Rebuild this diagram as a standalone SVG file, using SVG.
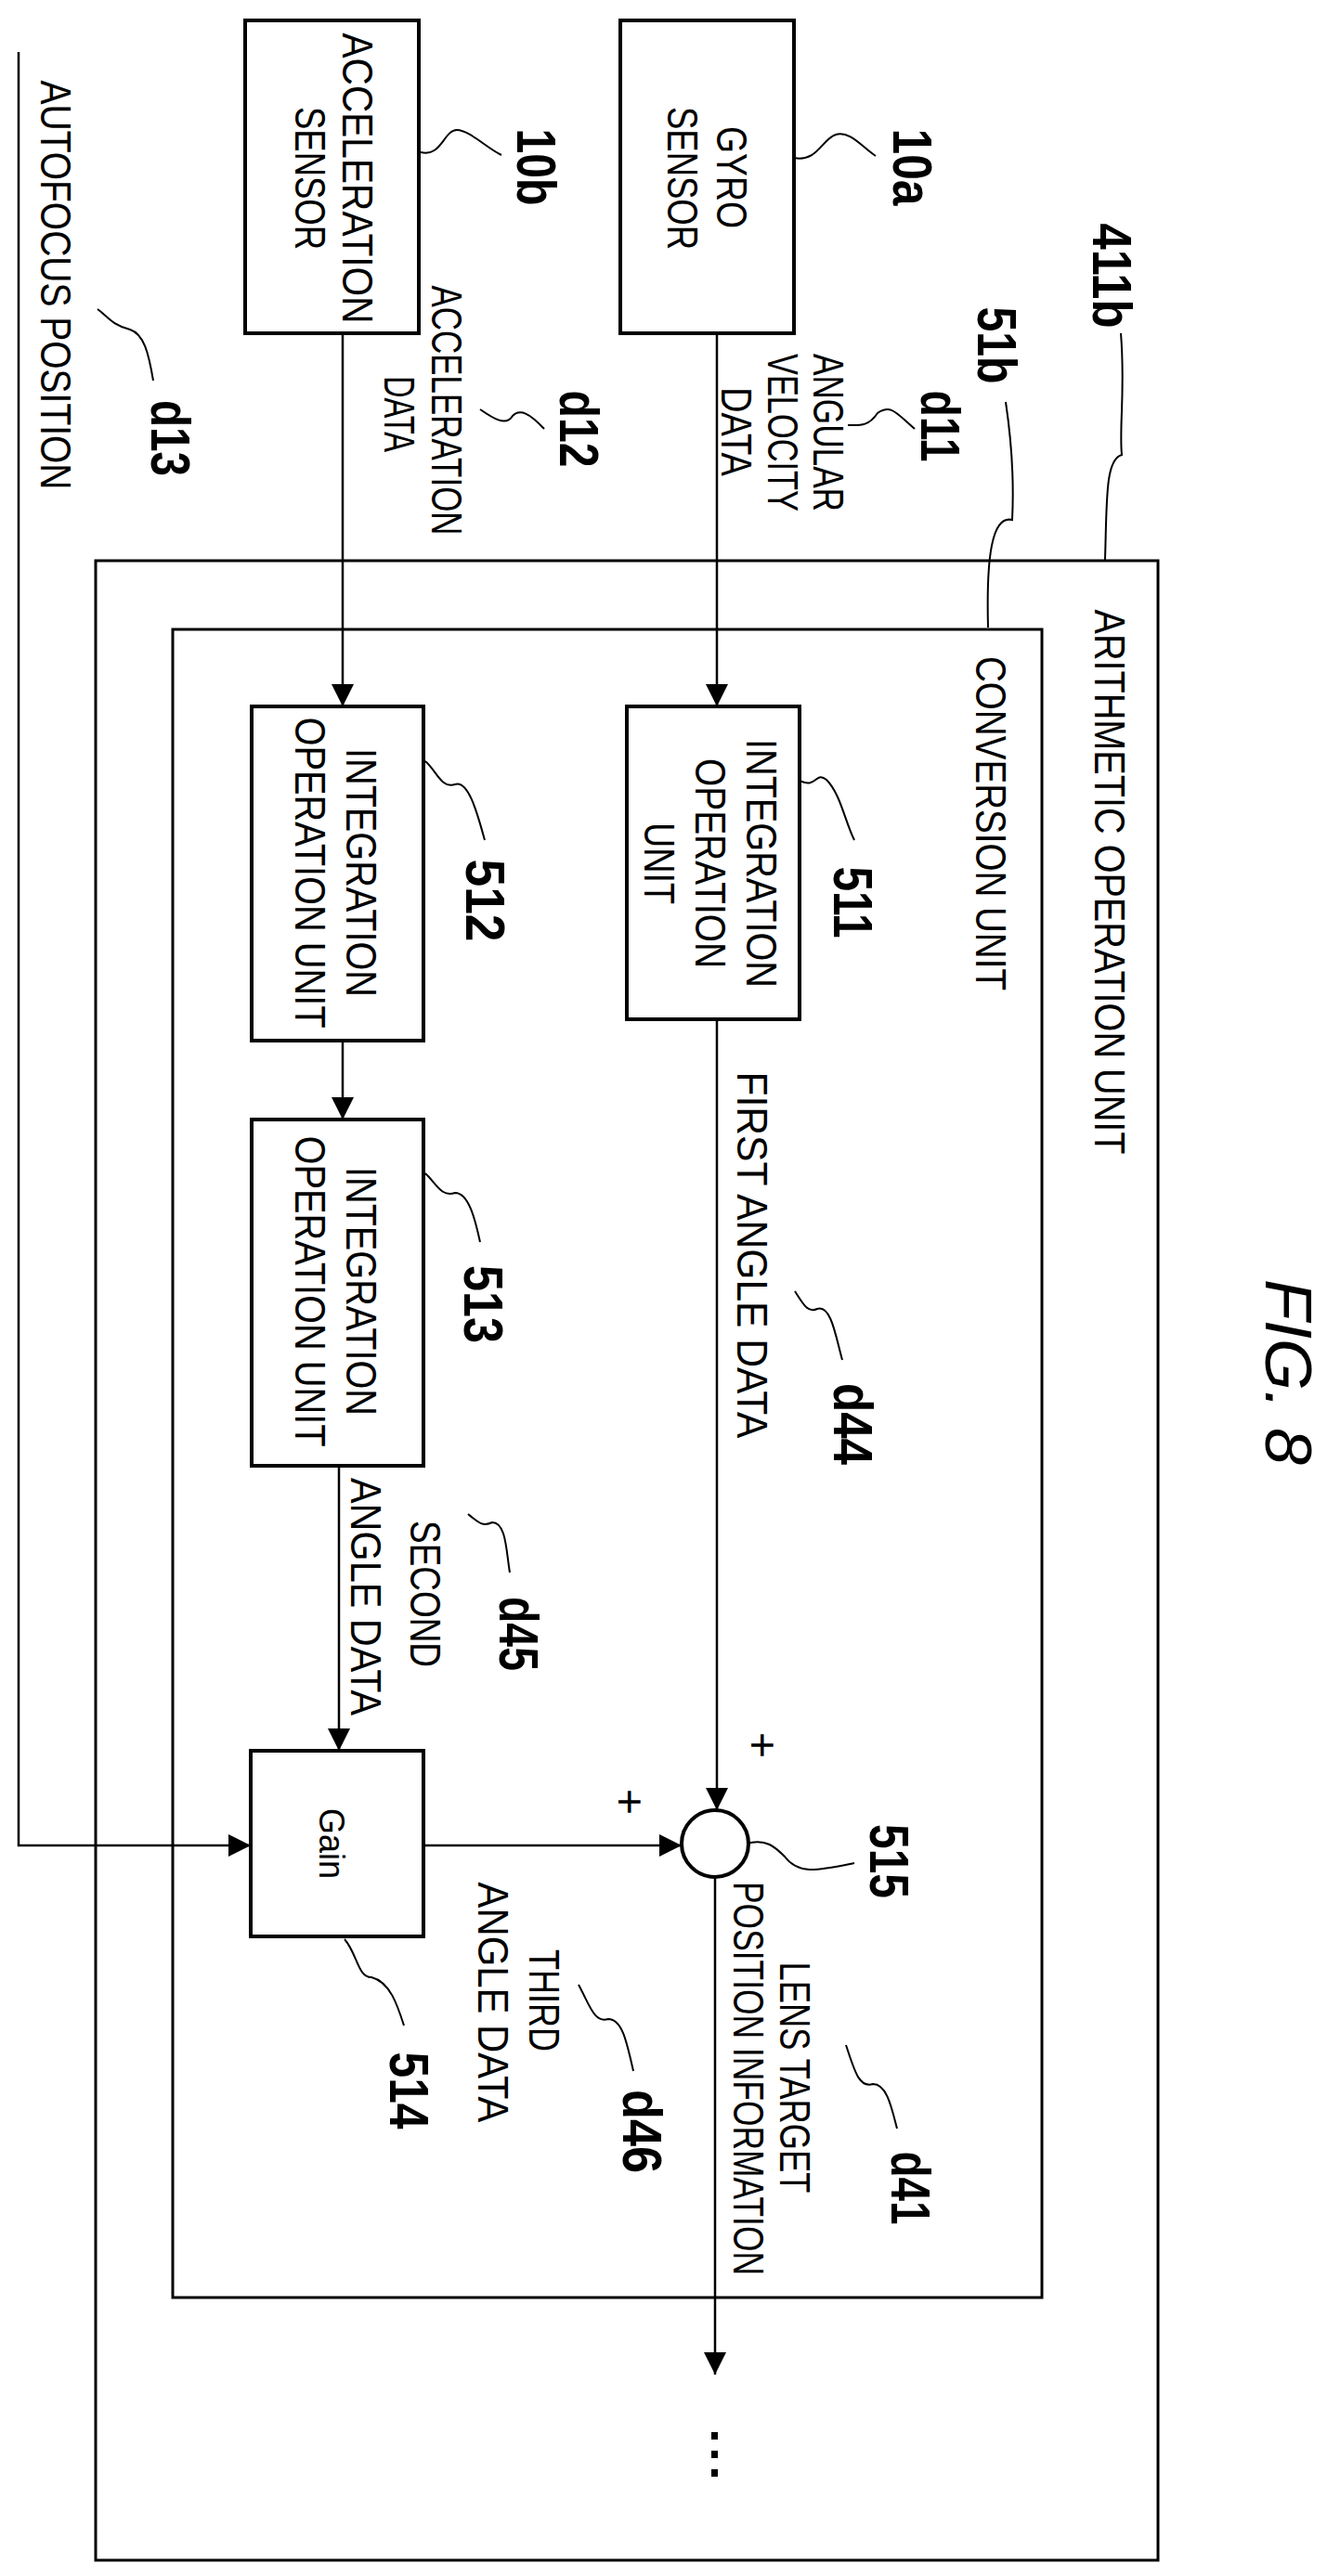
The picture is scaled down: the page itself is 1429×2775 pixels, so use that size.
<svg xmlns="http://www.w3.org/2000/svg" width="1429" height="2775" viewBox="0 0 1429 2775">
<style>
.b{fill:#fff;stroke:#000;stroke-width:4}
.f{fill:none;stroke:#000;stroke-width:3}
.c{fill:none;stroke:#000;stroke-width:2.5}
.l{fill:none;stroke:#000;stroke-width:2}
text{font-family:"Liberation Sans",Arial,sans-serif;fill:#000}
.t{font-size:46px}
.n{font-size:60px;font-weight:bold}
</style>
<defs>
<marker id="a" markerUnits="userSpaceOnUse" markerWidth="24" markerHeight="32" viewBox="0 0 24 32" refX="24" refY="12" orient="auto">
<path d="M0,0 L24,12 L0,24 Z" fill="#000"/>
</marker>
</defs>
<rect width="1429" height="2775" fill="#fff"/>
<g id="outer411b"><rect class="f" x="103" y="604" width="1144" height="2154"/>
<text class="t" text-anchor="middle" dominant-baseline="central" textLength="587" lengthAdjust="spacingAndGlyphs" transform="translate(1195,950) rotate(90)">ARITHMETIC OPERATION UNIT</text></g>
<g id="conv51b"><rect class="f" x="186" y="678" width="936" height="1797"/>
<text class="t" text-anchor="middle" dominant-baseline="central" textLength="360" lengthAdjust="spacingAndGlyphs" transform="translate(1067,887) rotate(90)">CONVERSION UNIT</text></g>
<g id="gyro"><rect class="b" x="668" y="22" width="187" height="337"/>
<text class="t" text-anchor="middle" dominant-baseline="central" textLength="110" lengthAdjust="spacingAndGlyphs" transform="translate(788,191) rotate(90)">GYRO</text>
<text class="t" text-anchor="middle" dominant-baseline="central" textLength="154" lengthAdjust="spacingAndGlyphs" transform="translate(735,192) rotate(90)">SENSOR</text></g>
<g id="accel"><rect class="b" x="264" y="22" width="187" height="337"/>
<text class="t" text-anchor="middle" dominant-baseline="central" textLength="313" lengthAdjust="spacingAndGlyphs" transform="translate(385,192) rotate(90)">ACCELERATION</text>
<text class="t" text-anchor="middle" dominant-baseline="central" textLength="154" lengthAdjust="spacingAndGlyphs" transform="translate(334,192) rotate(90)">SENSOR</text></g>
<g id="u511"><rect class="b" x="675" y="761" width="186" height="337"/>
<text class="t" text-anchor="middle" dominant-baseline="central" textLength="268" lengthAdjust="spacingAndGlyphs" transform="translate(820,930) rotate(90)">INTEGRATION</text>
<text class="t" text-anchor="middle" dominant-baseline="central" textLength="226" lengthAdjust="spacingAndGlyphs" transform="translate(765,930) rotate(90)">OPERATION</text>
<text class="t" text-anchor="middle" dominant-baseline="central" textLength="88" lengthAdjust="spacingAndGlyphs" transform="translate(710,930) rotate(90)">UNIT</text></g>
<g id="u512"><rect class="b" x="271" y="761" width="185" height="360"/>
<text class="t" text-anchor="middle" dominant-baseline="central" textLength="268" lengthAdjust="spacingAndGlyphs" transform="translate(389,940) rotate(90)">INTEGRATION</text>
<text class="t" text-anchor="middle" dominant-baseline="central" textLength="335" lengthAdjust="spacingAndGlyphs" transform="translate(334,940) rotate(90)">OPERATION UNIT</text></g>
<g id="u513"><rect class="b" x="271" y="1206" width="185" height="373"/>
<text class="t" text-anchor="middle" dominant-baseline="central" textLength="268" lengthAdjust="spacingAndGlyphs" transform="translate(389,1391) rotate(90)">INTEGRATION</text>
<text class="t" text-anchor="middle" dominant-baseline="central" textLength="335" lengthAdjust="spacingAndGlyphs" transform="translate(334,1391) rotate(90)">OPERATION UNIT</text></g>
<g id="u514"><rect class="b" x="270" y="1886" width="186" height="200"/>
<text style="font-size:38px" text-anchor="middle" dominant-baseline="central" textLength="76" lengthAdjust="spacingAndGlyphs" transform="translate(357,1986) rotate(90)">Gain</text></g>
<g id="u515"><circle class="b" cx="770" cy="1986" r="36"/></g>
<g id="connectors">
<path class="c" d="M772,359 V761" marker-end="url(#a)"/>
<path class="c" d="M369,359 V761" marker-end="url(#a)"/>
<path class="c" d="M369,1121 V1206" marker-end="url(#a)"/>
<path class="c" d="M772,1098 V1950" marker-end="url(#a)"/>
<path class="c" d="M365,1579 V1886" marker-end="url(#a)"/>
<path class="c" d="M456,1988 H734" marker-end="url(#a)"/>
<path class="c" d="M20,56 V1988 H270" marker-end="url(#a)"/>
<path class="c" d="M770,2022 V2558" marker-end="url(#a)"/>
<rect x="766" y="2620" width="7" height="8"/><rect x="766" y="2640" width="7" height="8"/><rect x="766" y="2660" width="7" height="8"/>
</g>
<g id="leaders">
<path class="l" d="M855,170 C880,175 885,150 900,145 C915,140 930,160 943,168"/>
<path class="l" d="M453,164 C475,170 478,140 492,140 C505,140 525,160 540,167"/>
<path class="l" d="M1207,359 C1212,420 1205,460 1208,490 C1190,495 1192,540 1190,603"/>
<path class="l" d="M1083,433 C1090,480 1092,520 1090,560 C1068,555 1062,600 1064,676"/>
<path class="l" d="M985,462 C965,445 960,435 945,445 C935,460 925,458 913,458"/>
<path class="l" d="M586,462 C570,445 560,440 552,448 C545,460 530,450 517,441"/>
<path class="l" d="M165,410 C160,380 155,360 140,355 C120,350 115,340 105,333"/>
<path class="l" d="M861,841 C880,850 878,830 890,840 C905,855 910,885 920,905"/>
<path class="l" d="M458,820 C470,830 475,850 490,845 C505,840 515,880 522,905"/>
<path class="l" d="M458,1264 C470,1275 475,1290 490,1285 C505,1285 512,1315 517,1338"/>
<path class="l" d="M856,1391 C865,1405 870,1415 880,1410 C895,1405 900,1440 907,1465"/>
<path class="l" d="M504,1631 C515,1640 520,1645 530,1640 C545,1640 545,1670 549,1694"/>
<path class="l" d="M804,1986 C825,1980 835,1990 845,2000 C860,2020 880,2015 920,2007"/>
<path class="l" d="M371,2089 C385,2105 385,2130 400,2130 C420,2135 428,2160 435,2182"/>
<path class="l" d="M623,2138 C635,2160 640,2180 655,2175 C670,2175 675,2200 682,2231"/>
<path class="l" d="M911,2203 C920,2230 925,2250 940,2245 C955,2245 960,2270 966,2293"/>
</g>
<g id="labels">
<text class="n" text-anchor="middle" dominant-baseline="central" textLength="83" lengthAdjust="spacingAndGlyphs" transform="translate(982,180) rotate(90)">10a</text>
<text class="n" text-anchor="middle" dominant-baseline="central" textLength="83" lengthAdjust="spacingAndGlyphs" transform="translate(577,180) rotate(90)">10b</text>
<text class="n" text-anchor="middle" dominant-baseline="central" textLength="113" lengthAdjust="spacingAndGlyphs" transform="translate(1197,297) rotate(90)">411b</text>
<text class="n" text-anchor="middle" dominant-baseline="central" textLength="83" lengthAdjust="spacingAndGlyphs" transform="translate(1073,372) rotate(90)">51b</text>
<text class="n" text-anchor="middle" dominant-baseline="central" textLength="77" lengthAdjust="spacingAndGlyphs" transform="translate(1012,459) rotate(90)">d11</text>
<text class="n" text-anchor="middle" dominant-baseline="central" textLength="83" lengthAdjust="spacingAndGlyphs" transform="translate(623,462) rotate(90)">d12</text>
<text class="n" text-anchor="middle" dominant-baseline="central" textLength="82" lengthAdjust="spacingAndGlyphs" transform="translate(183,472) rotate(90)">d13</text>
<text class="n" text-anchor="middle" dominant-baseline="central" textLength="77" lengthAdjust="spacingAndGlyphs" transform="translate(918,972) rotate(90)">511</text>
<text class="n" text-anchor="middle" dominant-baseline="central" textLength="89" lengthAdjust="spacingAndGlyphs" transform="translate(522,970) rotate(90)">512</text>
<text class="n" text-anchor="middle" dominant-baseline="central" textLength="84" lengthAdjust="spacingAndGlyphs" transform="translate(520,1405) rotate(90)">513</text>
<text class="n" text-anchor="middle" dominant-baseline="central" textLength="88" lengthAdjust="spacingAndGlyphs" transform="translate(918,1534) rotate(90)">d44</text>
<text class="n" text-anchor="middle" dominant-baseline="central" textLength="80" lengthAdjust="spacingAndGlyphs" transform="translate(558,1760) rotate(90)">d45</text>
<text class="n" text-anchor="middle" dominant-baseline="central" textLength="80" lengthAdjust="spacingAndGlyphs" transform="translate(957,2005) rotate(90)">515</text>
<text class="n" text-anchor="middle" dominant-baseline="central" textLength="83" lengthAdjust="spacingAndGlyphs" transform="translate(440,2252) rotate(90)">514</text>
<text class="n" text-anchor="middle" dominant-baseline="central" textLength="90" lengthAdjust="spacingAndGlyphs" transform="translate(691,2296) rotate(90)">d46</text>
<text class="n" text-anchor="middle" dominant-baseline="central" textLength="79" lengthAdjust="spacingAndGlyphs" transform="translate(980,2357) rotate(90)">d41</text>
<text class="t" text-anchor="middle" dominant-baseline="central" textLength="170" lengthAdjust="spacingAndGlyphs" transform="translate(892,466) rotate(90)">ANGULAR</text>
<text class="t" text-anchor="middle" dominant-baseline="central" textLength="170" lengthAdjust="spacingAndGlyphs" transform="translate(843,466) rotate(90)">VELOCITY</text>
<text class="t" text-anchor="middle" dominant-baseline="central" textLength="96" lengthAdjust="spacingAndGlyphs" transform="translate(793,465) rotate(90)">DATA</text>
<text class="t" text-anchor="middle" dominant-baseline="central" textLength="269" lengthAdjust="spacingAndGlyphs" transform="translate(481,442) rotate(90)">ACCELERATION</text>
<text class="t" text-anchor="middle" dominant-baseline="central" textLength="82" lengthAdjust="spacingAndGlyphs" transform="translate(430,446) rotate(90)">DATA</text>
<text class="t" text-anchor="middle" dominant-baseline="central" textLength="441" lengthAdjust="spacingAndGlyphs" transform="translate(60,307) rotate(90)">AUTOFOCUS POSITION</text>
<text class="t" text-anchor="middle" dominant-baseline="central" textLength="395" lengthAdjust="spacingAndGlyphs" transform="translate(810,1352) rotate(90)">FIRST ANGLE DATA</text>
<text class="t" text-anchor="middle" dominant-baseline="central" textLength="158" lengthAdjust="spacingAndGlyphs" transform="translate(458,1717) rotate(90)">SECOND</text>
<text class="t" text-anchor="middle" dominant-baseline="central" textLength="256" lengthAdjust="spacingAndGlyphs" transform="translate(394,1720) rotate(90)">ANGLE DATA</text>
<text class="t" text-anchor="middle" dominant-baseline="central" textLength="110" lengthAdjust="spacingAndGlyphs" transform="translate(586,2155) rotate(90)">THIRD</text>
<text class="t" text-anchor="middle" dominant-baseline="central" textLength="259" lengthAdjust="spacingAndGlyphs" transform="translate(531,2157) rotate(90)">ANGLE DATA</text>
<text class="t" text-anchor="middle" dominant-baseline="central" textLength="249" lengthAdjust="spacingAndGlyphs" transform="translate(856,2238) rotate(90)">LENS TARGET</text>
<text class="t" text-anchor="middle" dominant-baseline="central" textLength="424" lengthAdjust="spacingAndGlyphs" transform="translate(806,2239) rotate(90)">POSITION INFORMATION</text>
<text style="font-size:48px" text-anchor="middle" dominant-baseline="central" transform="translate(821,1880) rotate(90)">+</text>
<text style="font-size:48px" text-anchor="middle" dominant-baseline="central" transform="translate(678,1941) rotate(90)">+</text>
<text style="font-size:70px;font-style:italic" text-anchor="middle" dominant-baseline="central" textLength="200" lengthAdjust="spacingAndGlyphs" transform="translate(1387,1478) rotate(90)">FIG. 8</text>
</g>
</svg>
